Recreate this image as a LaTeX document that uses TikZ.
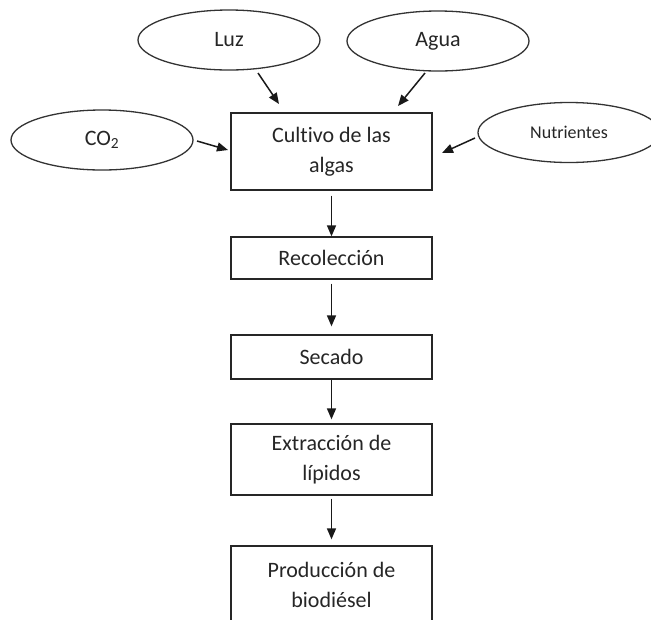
\documentclass[tikz,border=0pt]{standalone}
\usepackage{fontspec}
\setmainfont{Carlito}[Ligatures=NoCommon]
\usetikzlibrary{shapes.geometric,arrows.meta}
\begin{document}
\begin{tikzpicture}[x=1pt,y=-1pt,
  box/.style={draw=black!85,line width=1.3pt,rectangle,minimum width=201pt,inner sep=0pt,align=center,font=\fontsize{22}{30}\selectfont,text=black!85},
  oval/.style={draw=black!80,line width=1.3pt,ellipse,minimum width=182pt,minimum height=60pt,inner sep=0pt,font=\fontsize{22}{30}\selectfont,text=black!85},
  arr/.style={draw=black!90,line width=1.5pt,-{Triangle[length=11pt,width=9pt]}}]
\useasboundingbox (0,0) rectangle (651,619);
\fill[white] (0,0) rectangle (651,619);
% process boxes
\node[box,minimum height=77pt] (b1) at (331.5,151.5) {Cultivo de las\\algas};
\node[box,minimum height=42pt] (b2) at (331.5,258) {Recolección};
\node[box,minimum height=44pt] (b3) at (331.5,357) {Secado};
\node[box,minimum height=71pt] (b4) at (331.5,459.5) {Extracción de\\lípidos};
\node[box,minimum height=77pt] (b5) at (331.5,584.5) {Producción de\\biodiésel};
% inputs
\node[oval] (co2) at (102,140) {CO\textsubscript{2}\hspace{12pt}};
\node[oval] (luz) at (229,40) {Luz\hspace{10pt}};
\node[oval] (agua) at (438,41) {Agua\hspace{10pt}};
\node[oval,font=\fontsize{18}{22}\selectfont] (nut) at (569,132.5) {Nutrientes\hspace{4pt}};
% connector end points
\coordinate (luzS) at (258,73);
\coordinate (luzE) at (279,104);
\coordinate (aguaS) at (425,73);
\coordinate (aguaE) at (398,106);
\coordinate (co2S) at (197,141);
\coordinate (co2E) at (228,150);
\coordinate (nutS) at (475,138);
\coordinate (nutE) at (442,153);
% connectors
\draw[arr] (luzS) -- (luzE);
\draw[arr] (aguaS) -- (aguaE);
\draw[arr] (co2S) -- (co2E);
\draw[arr] (nutS) -- (nutE);
\draw[arr,shorten <=5pt] (b1) -- (b2);
\draw[arr,shorten <=4pt,shorten >=8pt] (b2) -- (b3);
\draw[arr,shorten >=4pt] (b3) -- (b4);
\draw[arr,shorten <=3pt,shorten >=6pt] (b4) -- (b5);
\end{tikzpicture}
\end{document}
